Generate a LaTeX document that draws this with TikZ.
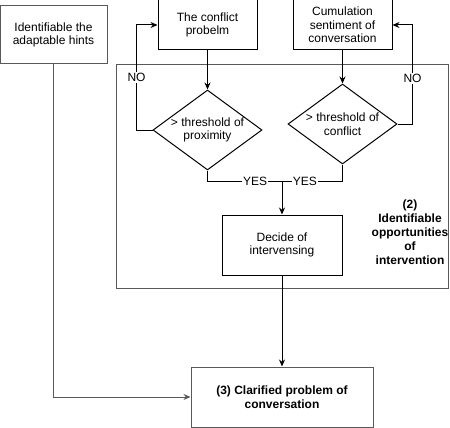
\documentclass[tikz,border=0pt]{standalone}
\usepackage{fontspec}
\setmainfont{Liberation Sans}
\usetikzlibrary{shapes.geometric,arrows.meta}
\definecolor{edgegray}{rgb}{0.35,0.35,0.35}
\begin{document}
\begin{tikzpicture}[x=1pt,y=-1pt,
  every node/.style={font=\fontsize{12}{13.5}\selectfont},
  box/.style={draw=black,line width=1pt,align=center,inner sep=0pt},
  graybox/.style={draw=edgegray,line width=1pt,align=center,inner sep=0pt},
  dia/.style={diamond,draw=black,line width=1pt,inner sep=0pt},
  arr/.style={-{Stealth[length=7pt,width=6pt]},line width=1pt},
  lab/.style={fill=white,inner sep=1pt}]
\useasboundingbox (0,0) rectangle (450,428);
% container
\node[graybox,minimum width=332pt,minimum height=223pt] (cont) at (282,176.5) {};
\node[align=center,font=\bfseries\fontsize{12}{14}\selectfont] (contlab) at (410,232)
  {(2)\\Identifiable\\opportunities\\of\\intervention};
% boxes
\node[graybox,minimum width=107pt,minimum height=58pt] (hints) at (53.5,35) {Identifiable the\\adaptable hints};
\node[box,minimum width=99pt,minimum height=50pt] (cp) at (207.5,25) {The conflict\\probelm};
\node[box,minimum width=99pt,minimum height=50pt] (cs) at (342.5,25) {Cumulation\\sentiment of\\conversation};
\node[dia,minimum width=109pt,minimum height=80pt,
  label={[align=center]center:{> threshold of\\proximity}}] (d1) at (207.5,130) {};
\node[dia,minimum width=109pt,minimum height=80pt,
  label={[align=center]center:{> threshold of\\conflict}}] (d2) at (342.5,124) {};
\node[box,minimum width=120pt,minimum height=60pt] (dec) at (282,245) {Decide of\\intervensing};
\node[graybox,minimum width=182pt,minimum height=60pt,font=\bfseries\fontsize{12}{13.5}\selectfont] (b3) at (282,397) {(3) Clarified problem of\\conversation};
\coordinate (j) at (282,181);
% connectors
\draw[arr] (cp.south) -- (d1.north);
\draw[arr] (cs.south) -- (d2.north);
\draw[arr] (d1.west) -- ++(-16,0) |- node[lab,pos=0.25]{NO} (cp.west);
\draw[arr] (d2.east) -- ++(15,0) |- node[lab,pos=0.23]{NO} (cs.east);
\draw[line width=1pt] (d1.south) |- node[lab,pos=0.82]{YES} (j);
\draw[line width=1pt] (d2.south) |- node[lab,pos=0.81]{YES} (j);
\draw[arr] (j) -- (dec.north);
\draw[arr] (dec.south) -- (b3.north);
\draw[arr,draw=edgegray] (hints.south) |- (b3.west);
\end{tikzpicture}
\end{document}
